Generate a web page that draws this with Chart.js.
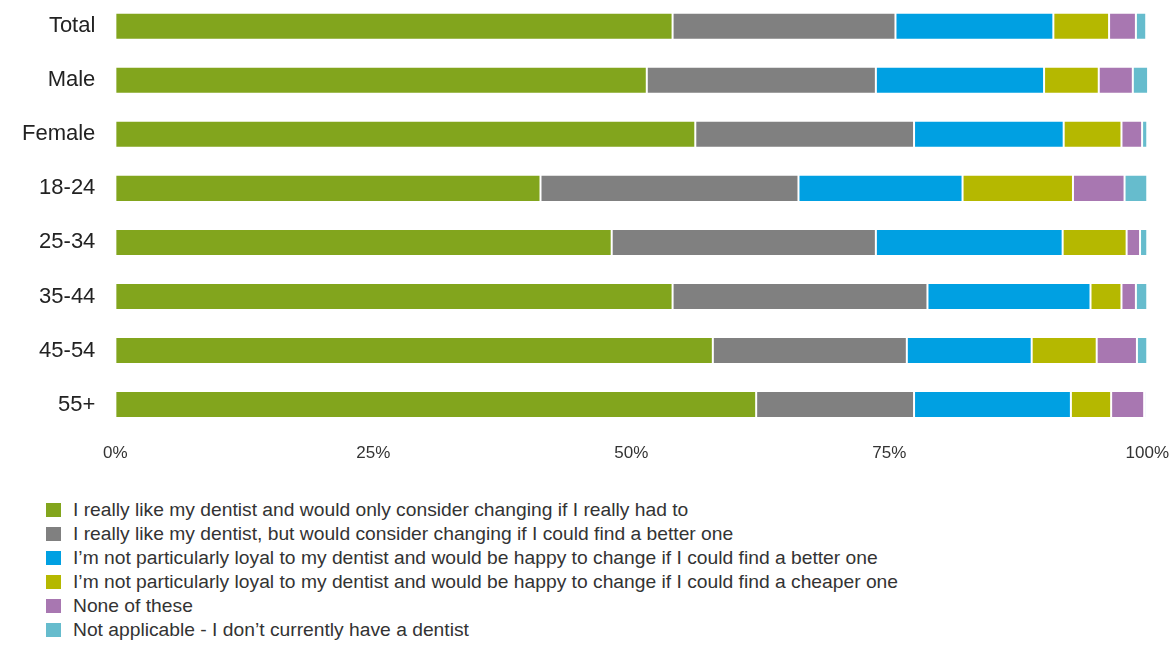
<!DOCTYPE html>
<html>
<head>
<meta charset="utf-8">
<script src="https://cdn.jsdelivr.net/npm/chart.js@4/dist/chart.umd.min.js"></script>
<style>
    body { margin: 0; background: #fff; font-family: "Liberation Sans", Arial, sans-serif; overflow: hidden; }
    /* the y axis adds its tick padding above the first bar, so the canvas is pulled up */
    #wrap { position: absolute; left: 2px; top: -34px; width: 1179px; height: 510px; }
    #legend { position: absolute; left: 46px; top: 498px; margin: 0; padding: 0; list-style: none; }
    #legend li { height: 24px; display: flex; align-items: center; font-size: 19.25px; color: #333; white-space: nowrap; }
    #legend span.box { display: inline-block; width: 15px; height: 14px; margin-right: 12px; }
</style>
</head>
<body>
<div id="wrap"><canvas id="loyaltyChart"></canvas></div>
<ul id="legend"></ul>
<script>
// grupy respondentów
var groups = ['Total', 'Male', 'Female', '18-24', '25-34', '35-44', '45-54', '55+'];

var xTicks = [0, 25, 50, 75, 100];

var answers = [
    'I really like my dentist and would only consider changing if I really had to',
    'I really like my dentist, but would consider changing if I could find a better one',
    'I\u2019m not particularly loyal to my dentist and would be happy to change if I could find a better one',
    'I\u2019m not particularly loyal to my dentist and would be happy to change if I could find a cheaper one',
    'None of these',
    'Not applicable - I don\u2019t currently have a dentist'
];

var colors = ['#82a51d', '#808080', '#00a0e2', '#b5b800', '#a877b1', '#66bccd'];

// odsetki dla każdej odpowiedzi, w kolejności grup
var onlyIfHadTo = [54.0, 51.5, 56.2, 41.2, 48.1, 54.0, 57.9, 62.1];
var betterOne = [21.6, 22.2, 21.2, 25.0, 25.6, 24.7, 18.8, 15.3];
var notLoyalBetter = [15.3, 16.3, 14.5, 15.9, 18.1, 15.8, 12.1, 15.2];
var notLoyalCheaper = [5.4, 5.3, 5.6, 10.7, 6.2, 3.0, 6.3, 3.9];
var noneOfThese = [2.6, 3.3, 2.0, 5.0, 1.3, 1.4, 3.9, 3.2];
var notApplicable = [1.0, 1.5, 0.5, 2.2, 0.7, 1.1, 1.0, 0.2];

var series = [onlyIfHadTo, betterOne, notLoyalBetter, notLoyalCheaper, noneOfThese, notApplicable];

var datasets = [];
for (var i = 0; i < series.length; i++) {
    datasets.push({
        label: answers[i],
        data: series[i],
        backgroundColor: colors[i],
        borderColor: 'rgba(255, 255, 255, 0.75)',
        borderWidth: 1,
        borderSkipped: false,
        barPercentage: 0.5,
        categoryPercentage: 1.0
    });
}

var ctx = document.getElementById('loyaltyChart').getContext('2d');

var loyaltyChart = new Chart(ctx, {
    type: 'bar',
    data: {
        labels: groups,
        datasets: datasets
    },
    options: {
        indexAxis: 'y',
        responsive: true,
        maintainAspectRatio: false,
        animation: false,
        layout: {
            padding: { left: 0, right: 0, top: 0, bottom: 0 }
        },
        plugins: {
            legend: { display: false },
            tooltip: { enabled: false }
        },
        scales: {
            x: {
                stacked: true,
                min: 0,
                max: 100,
                afterBuildTicks: function (axis) {
                    axis.ticks = xTicks.map(function (v) { return { value: v }; });
                },
                grid: { display: false, drawTicks: false },
                border: { display: false },
                ticks: {
                    padding: 12,
                    maxRotation: 0,
                    color: '#333',
                    font: { family: '"Liberation Sans", Arial, sans-serif', size: 17 },
                    callback: function (value) { return value + '%'; }
                }
            },
            y: {
                stacked: true,
                grid: { display: false, drawTicks: false },
                border: { display: false },
                ticks: {
                    padding: 20,
                    color: '#222',
                    font: { family: '"Liberation Sans", Arial, sans-serif', size: 22 }
                }
            }
        }
    }
});

// legenda pod wykresem
var legendList = document.getElementById('legend');
for (var j = 0; j < answers.length; j++) {
    var li = document.createElement('li');
    var box = document.createElement('span');
    box.className = 'box';
    box.style.background = colors[j];
    li.appendChild(box);
    li.appendChild(document.createTextNode(answers[j]));
    legendList.appendChild(li);
}
</script>
</body>
</html>
